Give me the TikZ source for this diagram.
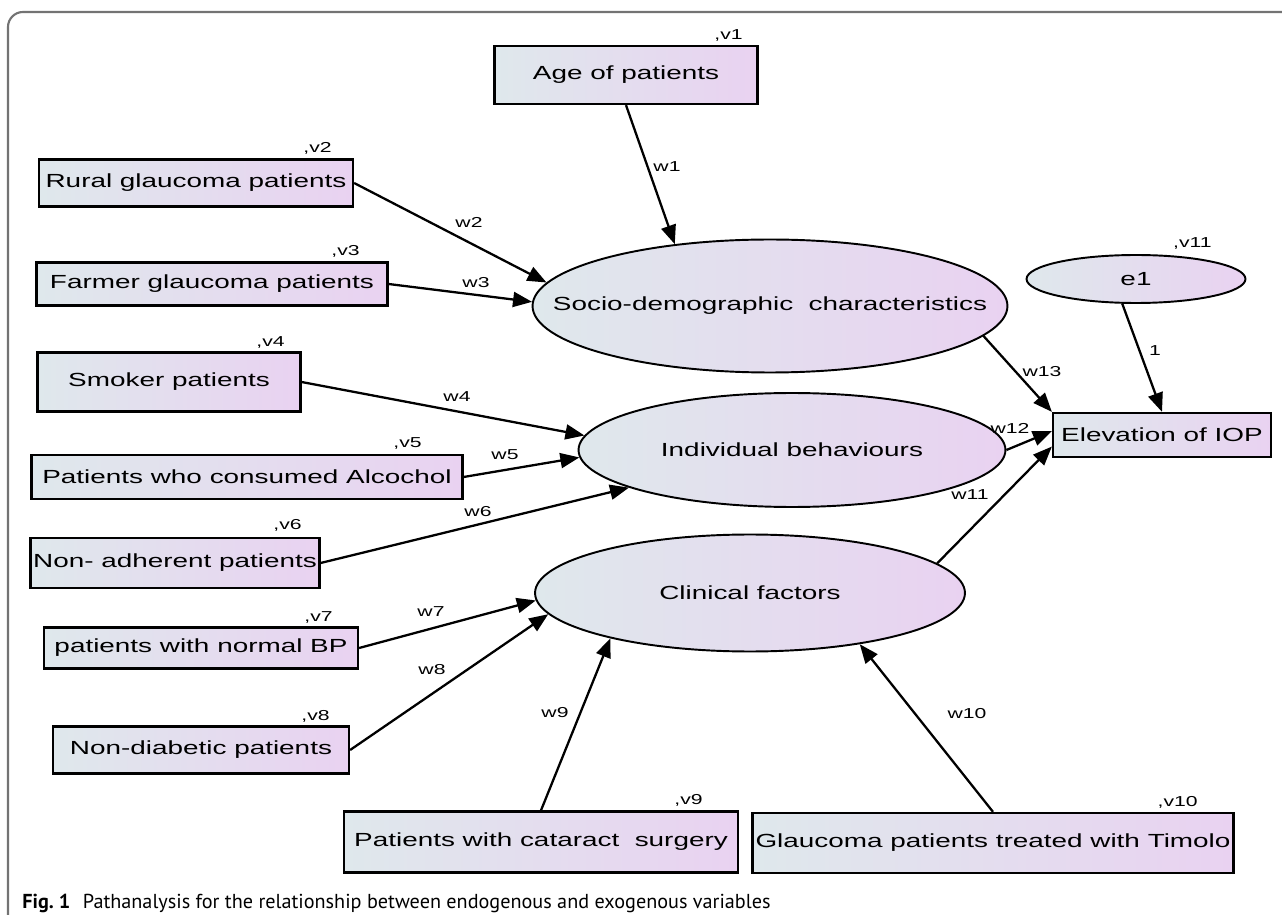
\documentclass[tikz,border=0pt]{standalone}
\usepackage{fontspec}
\setmainfont{Liberation Sans}[FakeStretch=1.47]
\newfontfamily\capfont{PT Sans}
\usepackage{tikz}
\usetikzlibrary{shapes,arrows.meta}
\definecolor{shadeleft}{HTML}{DFE8EC}
\definecolor{shaderight}{HTML}{E9D2F1}
\tikzset{
  obsbox/.style={draw, rectangle, line width=1.3pt, left color=shadeleft, right color=shaderight, inner sep=0pt, font=\fontsize{10.8pt}{12pt}\selectfont},
  latent/.style={draw, ellipse, line width=1.1pt, left color=shadeleft, right color=shaderight, inner sep=0pt, font=\fontsize{10.8pt}{12pt}\selectfont},
  wlabel/.style={inner sep=0pt, font=\fontsize{8.2pt}{9pt}\selectfont},
  vlabel/.style={inner sep=0pt, anchor=base east, font=\fontsize{8.2pt}{9pt}\selectfont},
  pathedge/.style={-{Triangle[length=0.38cm, width=0.3cm]}, line width=1.3pt}
}

\begin{document}
\begin{tikzpicture}[x=0.02cm, y=-0.02cm]
        \useasboundingbox (0,0) rectangle (1282,915);
        % Frame of the figure
        \draw[black!55, line width=1.2pt, rounded corners=0.3cm] (8,915) -- (8,12) -- (1282,12);

        % Observed variables (rectangles)
        \node[obsbox, minimum width=5.26cm, minimum height=1.16cm] (age) at (626,75) {Age of patients};
        \node[obsbox, minimum width=6.28cm, minimum height=0.94cm] (rural) at (196,183) {Rural glaucoma patients};
        \node[obsbox, minimum width=7.02cm, minimum height=0.86cm] (farmer) at (212,284) {Farmer glaucoma patients};
        \node[obsbox, minimum width=5.26cm, minimum height=1.18cm] (smoker) at (169,382) {Smoker patients};
        \node[obsbox, minimum width=8.62cm, minimum height=0.88cm] (alcohol) at (247,477) {Patients who consumed Alcochol};
        \node[obsbox, minimum width=5.78cm, minimum height=1.0cm] (nonadh) at (175,563) {Non- adherent patients};
        \node[obsbox, minimum width=6.28cm, minimum height=0.82cm] (normalbp) at (201,648) {patients with normal BP};
        \node[obsbox, minimum width=5.92cm, minimum height=0.94cm] (nondiab) at (201,750) {Non-diabetic patients};
        \node[obsbox, minimum width=7.88cm, minimum height=1.22cm] (cataract) at (541,842) {Patients with cataract~ surgery};
        \node[obsbox, minimum width=9.62cm, minimum height=1.2cm] (timolo) at (993,843) {Glaucoma patients treated with Timolo};
        \node[obsbox, minimum width=4.36cm, minimum height=0.88cm] (elev) at (1162,435) {Elevation of IOP};

        % Latent variables and error term (ellipses)
        \node[latent, minimum width=9.5cm, minimum height=2.66cm] (socio) at (770,306) {\makebox[0pt]{Socio-demographic~ characteristics}};
        \node[latent, minimum width=8.54cm, minimum height=2.28cm] (indiv) at (792,450) {\makebox[0pt]{Individual behaviours}};
        \node[latent, minimum width=8.6cm, minimum height=2.34cm] (clinical) at (750,593) {\makebox[0pt]{Clinical factors}};
        \node[latent, minimum width=4.38cm, minimum height=0.96cm] (e1) at (1136,279) {\makebox[0pt]{e1}};

        % Variance labels
        \node[vlabel] (v1) at (743,40) {,v1};
        \node[vlabel] (v2) at (332,153) {,v2};
        \node[vlabel] (v3) at (360,256) {,v3};
        \node[vlabel] (v4) at (285,347) {,v4};
        \node[vlabel] (v5) at (422,448) {,v5};
        \node[vlabel] (v6) at (302,530) {,v6};
        \node[vlabel] (v7) at (333,622) {,v7};
        \node[vlabel] (v8) at (330,720) {,v8};
        \node[vlabel] (v9) at (703,804) {,v9};
        \node[vlabel] (v10) at (1198,806) {,v10};
        \node[vlabel] (v11) at (1212,248) {,v11};

        % Paths between the variables
        \draw[pathedge] (age.south) -- (socio.147);
        \draw[pathedge] (rural.east) -- (socio.174);
        \draw[pathedge] (farmer.east) -- (socio.179);
        \draw[pathedge] (smoker.east) -- (indiv.176);
        \draw[pathedge] (alcohol.east) -- (indiv.182);
        \draw[pathedge] (nonadh.east) -- (indiv.193);
        \draw[pathedge] (normalbp.east) -- (clinical.182);
        \draw[pathedge] (nondiab.east) -- (clinical.186);
        \draw[pathedge] (cataract.north) -- (clinical.198);
        \draw[pathedge] (timolo.north) -- (clinical.335);
        \draw[pathedge] (clinical.9) -- (elev.186);
        \draw[pathedge] (indiv.east) -- (elev.178);
        \draw[pathedge] (socio.352) -- (elev.north west);
        \draw[pathedge] (e1.241) -- (elev.north);

        % Path weights
        \node[wlabel] (w1) at (667,167) {w1};
        \node[wlabel] (w2) at (469,222) {w2};
        \node[wlabel] (w3) at (476,283) {w3};
        \node[wlabel] (w4) at (457,397) {w4};
        \node[wlabel] (w5) at (505,455) {w5};
        \node[wlabel] (w6) at (478,512) {w6};
        \node[wlabel] (w7) at (431,612) {w7};
        \node[wlabel] (w8) at (432,670) {w8};
        \node[wlabel] (w9) at (555,713) {w9};
        \node[wlabel] (w10) at (967,714) {w10};
        \node[wlabel] (w11) at (970,495) {w11};
        \node[wlabel] (w12) at (1010,428) {w12};
        \node[wlabel] (w13) at (1042,372) {w13};
        \node[wlabel] (one) at (1155,351) {1};

        % Caption
        \node[anchor=base west, inner sep=0pt, font=\capfont\fontsize{11.5pt}{13pt}\selectfont] (caption) at (22,908) {\textbf{Fig.~1}\hspace{0.25cm}Pathanalysis for the relationship between endogenous and exogenous variables};
    \end{tikzpicture}
\end{document}
